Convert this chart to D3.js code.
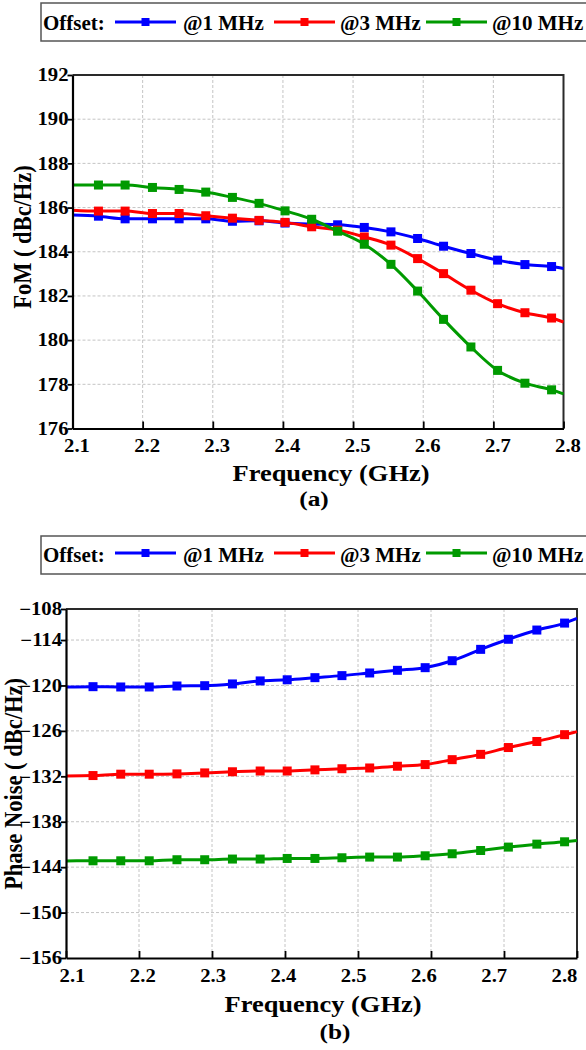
<!DOCTYPE html>
<html>
<head>
<meta charset="utf-8">
<script src="https://cdn.jsdelivr.net/npm/d3@7.9.0/dist/d3.min.js"></script>
<style>
  html, body { margin: 0; padding: 0; background: #fff; }
  svg { display: block; }
  text { font-family: 'Liberation Serif', 'Times New Roman', serif; font-weight: bold; fill: #000; }
</style>
</head>
<body>
<svg id="chart" width="586" height="1050"></svg>
<script>
// frequency points (GHz); first and last are the curve ends at the frame, drawn without markers
const freq = [2.1, 2.137, 2.175, 2.214, 2.252, 2.290, 2.328, 2.366, 2.403, 2.441, 2.478,
  2.516, 2.554, 2.592, 2.629, 2.668, 2.706, 2.745, 2.783, 2.8];

const offsetLabels = ['@1 MHz', '@3 MHz', '@10 MHz'];
const seriesColors = ['#0000ff', '#ff0000', '#009a00'];

// (a) FoM, dBc/Hz
const fom1MHz = [185.66, 185.61, 185.49, 185.49, 185.49, 185.49, 185.38, 185.40, 185.30, 185.25,
  185.22, 185.10, 184.90, 184.60, 184.25, 183.92, 183.62, 183.42, 183.33, 183.24];
const fom3MHz = [185.88, 185.84, 185.84, 185.73, 185.73, 185.63, 185.52, 185.42, 185.33, 185.13,
  184.98, 184.67, 184.30, 183.69, 183.01, 182.26, 181.65, 181.24, 181.00, 180.82];
const fom10MHz = [187.02, 187.02, 187.02, 186.91, 186.82, 186.70, 186.46, 186.19, 185.85, 185.47,
  184.93, 184.34, 183.43, 182.22, 180.94, 179.69, 178.63, 178.05, 177.75, 177.57];

// (b) phase noise, dBc/Hz
const pn1MHz = [-120.20, -120.16, -120.20, -120.20, -120.07, -120.03, -119.80, -119.40, -119.25, -118.97,
  -118.70, -118.35, -118.00, -117.65, -116.73, -115.23, -113.90, -112.68, -111.76, -111.14];
const pn3MHz = [-131.95, -131.90, -131.72, -131.72, -131.68, -131.55, -131.40, -131.30, -131.30, -131.15,
  -131.00, -130.90, -130.67, -130.45, -129.80, -129.10, -128.20, -127.40, -126.50, -126.10];
const pn10MHz = [-143.18, -143.16, -143.16, -143.16, -143.02, -143.02, -142.93, -142.93, -142.85, -142.85,
  -142.76, -142.67, -142.67, -142.50, -142.23, -141.80, -141.35, -140.96, -140.65, -140.47];

const xTicks = [2.1, 2.2, 2.3, 2.4, 2.5, 2.6, 2.7, 2.8];
const fomTicks = [176, 178, 180, 182, 184, 186, 188, 190, 192];
const pnTicks = [-156, -150, -144, -138, -132, -126, -120, -114, -108];

const svg = d3.select('#chart');
const SX = 1.15; // axis text in the figure is a bit stretched sideways

function stretch(sel) {
  sel.attr('transform', function () {
    const x = +this.getAttribute('x') || 0;
    return `translate(${x * (1 - SX)},0) scale(${SX},1)`;
  });
}

function drawLegend(top, bottom, baseline, lineY) {
  const g = svg.append('g');
  g.append('rect')
    .attr('x', 41).attr('y', top)
    .attr('width', 600).attr('height', bottom - top)
    .attr('fill', '#fff').attr('stroke', '#555').attr('stroke-width', 1.5);
  g.append('text').attr('x', 43).attr('y', baseline)
    .style('font-size', '21px').text('Offset:');

  const lineStarts = [115, 274, 426];
  const textStarts = [183, 340, 492];
  offsetLabels.forEach((label, i) => {
    g.append('line')
      .attr('x1', lineStarts[i]).attr('x2', lineStarts[i] + 61)
      .attr('y1', lineY).attr('y2', lineY)
      .attr('stroke', seriesColors[i]).attr('stroke-width', 3);
    g.append('rect')
      .attr('x', lineStarts[i] + 30.5 - 4).attr('y', lineY - 4)
      .attr('width', 8).attr('height', 8)
      .attr('fill', seriesColors[i]);
    g.append('text').attr('x', textStarts[i]).attr('y', baseline)
      .style('font-size', '21px').text(label);
  });
}

function drawPanel(p) {
  const x = d3.scaleLinear().domain([2.1, 2.8]).range([p.left, p.right]);
  const y = d3.scaleLinear().domain(p.yDomain).range([p.bottom, p.top]).clamp(true);
  // tick labels do not sit exactly under their ticks in the figure
  const xLabel = d3.scaleLinear().domain([2.1, 2.8]).range(p.labelRange);
  const g = svg.append('g');

  // grid
  g.append('g').selectAll('line')
    .data(xTicks.slice(1, -1))
    .join('line')
    .attr('x1', (d) => x(d)).attr('x2', (d) => x(d))
    .attr('y1', p.top).attr('y2', p.bottom)
    .attr('stroke', '#c4c4c4').attr('stroke-width', 1).attr('stroke-dasharray', '3,2');
  g.append('g').selectAll('line')
    .data(p.gridTicks)
    .join('line')
    .attr('x1', p.left).attr('x2', p.right)
    .attr('y1', (d) => y(d)).attr('y2', (d) => y(d))
    .attr('stroke', '#c4c4c4').attr('stroke-width', 1).attr('stroke-dasharray', '3,2');

  // top and right frame
  g.append('path')
    .attr('d', `M${p.left},${p.top}H${p.right}V${p.bottom}`)
    .attr('fill', 'none').attr('stroke', '#2a2a2a').attr('stroke-width', 2);

  const line = d3.line()
    .x((d) => x(d[0]))
    .y((d) => y(d[1]))
    .curve(d3.curveMonotoneX);

  p.series.forEach((vals, i) => {
    const pts = freq.map((f, j) => [f, vals[j]]);
    g.append('path')
      .datum(pts)
      .attr('d', line)
      .attr('fill', 'none')
      .attr('stroke', seriesColors[i])
      .attr('stroke-width', 3);
    g.append('g').selectAll('rect')
      .data(pts.slice(1, -1))
      .join('rect')
      .attr('x', (d) => x(d[0]) - 4.5)
      .attr('y', (d) => y(d[1]) - 4.5)
      .attr('width', 9).attr('height', 9)
      .attr('fill', seriesColors[i]);
  });

  // axes
  const xAxis = g.append('g')
    .attr('transform', `translate(0,${p.bottom})`)
    .call(d3.axisBottom(x).tickValues(xTicks).tickSize(-7).tickSizeOuter(0)
      .tickPadding(11).tickFormat(d3.format('.1f')));
  xAxis.selectAll('text')
    .attr('x', (d) => xLabel(d) - x(d))
    .style('font-size', '18px').call(stretch);

  const yAxis = g.append('g')
    .attr('transform', `translate(${p.left},0)`)
    .call(d3.axisLeft(y).tickValues(p.yTicks).tickSize(5).tickSizeOuter(0)
      .tickPadding(-1).tickFormat(d3.format('d')));
  yAxis.selectAll('text').style('font-size', '18px').call(stretch);

  [xAxis, yAxis].forEach((a) => {
    a.select('.domain').attr('stroke', '#000').attr('stroke-width', 2.2);
    a.selectAll('.tick line').attr('stroke', '#000').attr('stroke-width', 1.8);
  });

  // titles
  g.append('text')
    .attr('x', p.xTitle[0]).attr('y', p.xTitle[1])
    .attr('text-anchor', 'middle').style('font-size', '23px')
    .text('Frequency (GHz)').call(stretch);
  g.append('text')
    .attr('x', p.caption[0]).attr('y', p.caption[1])
    .attr('text-anchor', 'middle').style('font-size', '22px')
    .text(p.captionText).call(stretch);
  g.append('text')
    .attr('transform', `translate(${p.yTitle[0]},${p.yTitle[1]}) rotate(-90) scale(1,1.08)`)
    .attr('text-anchor', 'middle').style('font-size', '22.5px')
    .text(p.yTitleText);
}

drawLegend(3, 41, 30, 22);
drawPanel({
  left: 72.5, right: 563.5, top: 75, bottom: 428.5,
  yDomain: [176, 192], yTicks: fomTicks, gridTicks: fomTicks.slice(1, -1),
  series: [fom1MHz, fom3MHz, fom10MHz],
  labelRange: [76.5, 567.5],
  xTitle: [331, 481], caption: [314, 506], captionText: '(a)',
  yTitle: [31, 237], yTitleText: 'FoM ( dBc/Hz)',
});

drawLegend(536, 574, 562, 553);
drawPanel({
  left: 66, right: 577, top: 609, bottom: 958,
  yDomain: [-156, -109.9], yTicks: pnTicks, gridTicks: pnTicks.slice(1, -1),
  series: [pn1MHz, pn3MHz, pn10MHz],
  labelRange: [72, 564],
  xTitle: [323, 1012], caption: [335, 1039], captionText: '(b)',
  yTitle: [22, 784], yTitleText: 'Phase Noise  ( dBc/Hz)',
});
</script>
</body>
</html>
